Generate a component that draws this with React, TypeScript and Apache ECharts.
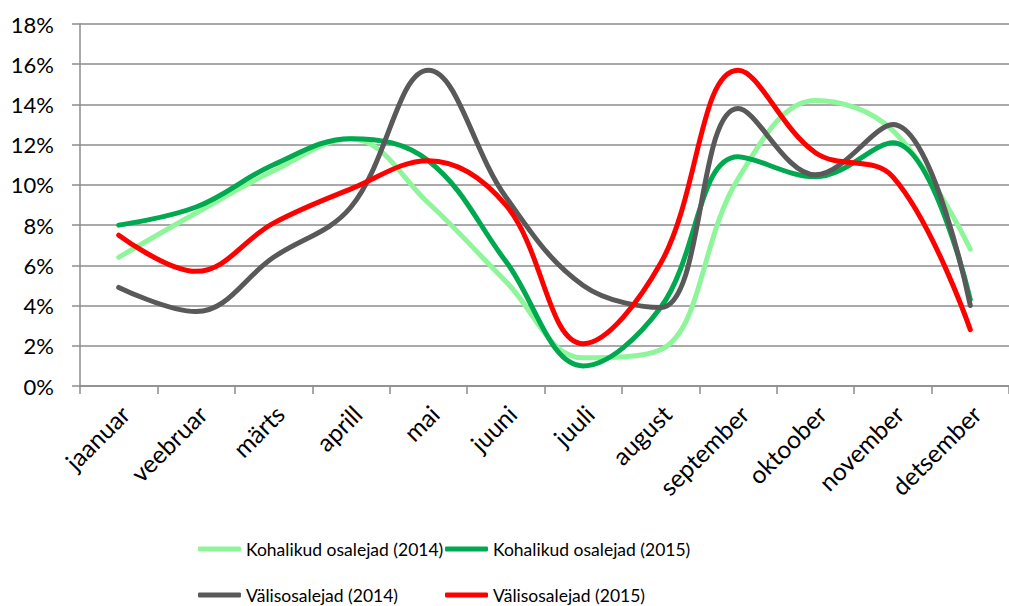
import React, { useEffect, useRef } from "react";
import * as echarts from "echarts";

const months = [
  "jaanuar", "veebruar", "märts", "aprill", "mai", "juuni",
  "juuli", "august", "september", "oktoober", "november", "detsember",
];
const seriesNames = [
  "Kohalikud osalejad (2014)",
  "Kohalikud osalejad (2015)",
  "Välisosalejad (2014)",
  "Välisosalejad (2015)",
];
const kohalikud2014 = [6.4, 8.6, 10.7, 12.3, 9.1, 5.2, 1.4, 1.8, 10.3, 14.2, 12.7, 6.8];
const kohalikud2015 = [8.0, 8.9, 11.0, 12.3, 11.2, 6.2, 1.0, 3.9, 11.4, 10.4, 12.1, 4.3];
const valis2014 = [4.9, 3.7, 6.4, 8.9, 15.7, 9.4, 5.0, 3.9, 13.8, 10.5, 13.0, 4.0];
const valis2015 = [7.5, 5.7, 8.1, 9.8, 11.2, 9.0, 2.1, 6.1, 15.7, 11.6, 10.4, 2.8];
const seriesValues = [kohalikud2014, kohalikud2015, valis2014, valis2015];
const colors = ["#8ff59b", "#00a84f", "#595959", "#ff0000"];

export default function App() {
  const ref = useRef<HTMLDivElement>(null);
  useEffect(() => {
    if (!ref.current) return;
    const chart = echarts.init(ref.current, undefined, { renderer: "svg" });
    const axisFont = { fontFamily: "Lato", fontSize: 22, color: "#000" };
    const legendFont = { fontFamily: "Lato", fontSize: 17.5, color: "#000" };
    const legendPos = [
      { left: 198, top: 540 },
      { left: 445, top: 540 },
      { left: 198, top: 586 },
      { left: 445, top: 586 },
    ];
    chart.setOption({
      animation: false,
      grid: { left: 80, top: 24, width: 940, height: 362 },
      legend: seriesNames.map((n, i) => ({
        data: [n],
        left: legendPos[i].left,
        top: legendPos[i].top,
        icon: "roundRect",
        itemWidth: 43,
        itemHeight: 5,
        padding: 0,
        textStyle: legendFont,
      })),
      xAxis: {
        type: "category",
        data: months,
        boundaryGap: true,
        axisLine: { lineStyle: { color: "#8c8c8c", width: 1.5 } },
        axisTick: { show: true, length: 8, lineStyle: { color: "#8c8c8c", width: 1.5 } },
        axisLabel: {
          ...axisFont,
          fontSize: 24.5,
          rotate: 45,
          margin: 30,
          interval: 0,
          padding: [0, -9, 0, 0],
        },
      },
      yAxis: {
        type: "value",
        min: 0,
        max: 18,
        interval: 2,
        axisLine: { show: true, lineStyle: { color: "#8c8c8c", width: 1.5 } },
        axisTick: { show: true, length: 8, lineStyle: { color: "#8c8c8c", width: 1.5 } },
        axisLabel: { ...axisFont, margin: 26, formatter: "{value}%" },
        splitLine: { lineStyle: { color: "#8c8c8c", width: 1.5 } },
      },
      series: seriesNames.map((n, i) => ({
        name: n,
        type: "line",
        data: seriesValues[i],
        smooth: 0.38,
        symbol: "none",
        color: colors[i],
        lineStyle: { width: 5, color: colors[i], cap: "round", join: "round" },
      })),
    });
    return () => chart.dispose();
  }, []);
  return (
    <div
      ref={ref}
      style={{ position: "fixed", left: 0, top: 0, width: 1009, height: 606, background: "#fff" }}
    />
  );
}
